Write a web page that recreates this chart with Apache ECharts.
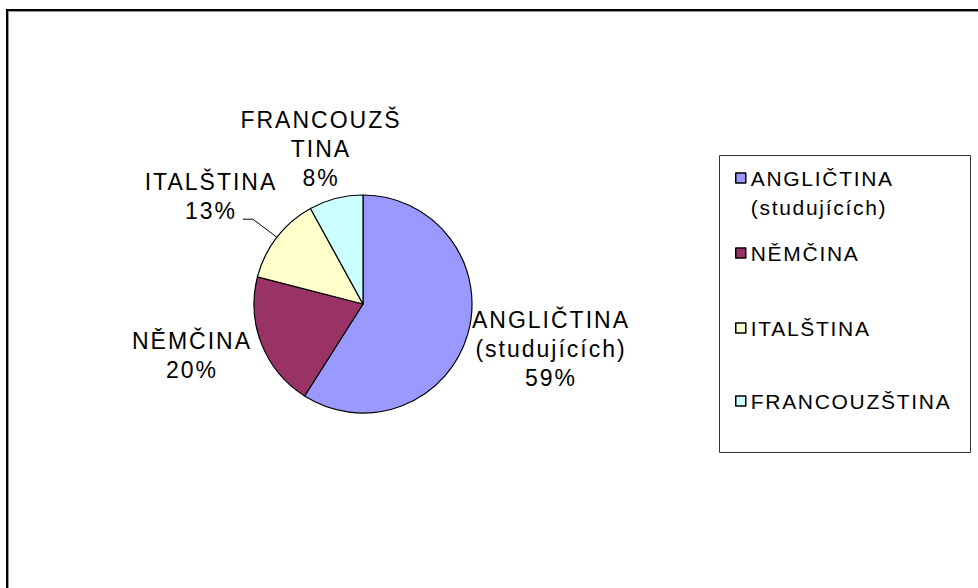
<!DOCTYPE html>
<html><head><meta charset="utf-8">
<script src="https://cdn.jsdelivr.net/npm/echarts@6/dist/echarts.min.js"></script>
<style>
html,body{margin:0;padding:0;background:#fff}
#chart{width:978px;height:588px}
#chart text[style*="23px"]{letter-spacing:2px}
#chart text[style*="21px"]{letter-spacing:1.7px}
</style></head><body><div id="chart"></div>
<script>
const categories = ['ANGLIČTINA\n(studujících)', 'NĚMČINA', 'ITALŠTINA', 'FRANCOUZŠTINA'];
const values = [59, 20, 13, 8];
const colors = ['#9999FF', '#993366', '#FFFFCC', '#CCFFFF'];
// label block centres (layout only)
const labelCenters = [[551, 349], [192, 355], [211, 196], [321, 149]];
// legend rows (icon centre y) - layout only
const legendRows = [178, 253, 328, 401];

const chart = echarts.init(document.getElementById('chart'), null, {renderer: 'svg'});

const legendTextStyle = {fontFamily: 'Liberation Sans', fontSize: 21, color: '#000', lineHeight: 29};
const legends = categories.map((c, i) => ({
  orient: 'vertical', left: 735,
  top: legendRows[i] - (i === 0 ? 43.5 : 14.5),
  padding: 0, itemWidth: 10, itemHeight: 10, icon: 'rect', selectedMode: false,
  itemStyle: {borderColor: '#000', borderWidth: 1.5},
  textStyle: legendTextStyle,
  formatter: name => (name.indexOf('\n') >= 0 ? '\n' + name : name),
  data: [c]
}));

chart.setOption({
  backgroundColor: '#fff',
  animation: false,
  graphic: [
    {type: 'rect', shape: {x: 7, y: 10, width: 2000, height: 2000}, style: {fill: 'none', stroke: '#000', lineWidth: 2}, silent: true},
    {type: 'rect', shape: {x: 8.5, y: 11.5, width: 2000, height: 2000}, style: {fill: 'none', stroke: '#999', lineWidth: 1}, silent: true},
    {type: 'rect', shape: {x: 719.5, y: 155.5, width: 251, height: 297}, style: {fill: 'none', stroke: '#333', lineWidth: 1}, silent: true}
  ],
  legend: legends,
  series: [{
    type: 'pie',
    center: [363, 304],
    radius: 109,
    startAngle: 90,
    clockwise: true,
    avoidLabelOverlap: false,
    emphasis: {disabled: true},
    itemStyle: {borderColor: '#000', borderWidth: 1.2},
    label: {
      show: true, position: 'outside',
      formatter: p => (p.name === 'FRANCOUZŠTINA' ? 'FRANCOUZŠ\nTINA' : p.name) + '\n' + p.percent + '%',
      fontFamily: 'Liberation Sans', fontSize: 23, color: '#000', lineHeight: 29, align: 'center'
    },
    labelLine: {show: true, lineStyle: {color: '#000', width: 1}},
    labelLayout: function (p) {
      const c = labelCenters[p.dataIndex];
      const res = {x: c[0], y: c[1], align: 'center', verticalAlign: 'middle'};
      if (p.dataIndex === 2 && p.labelLinePoints) {
        const s = p.labelLinePoints[0];
        res.labelLinePoints = [[s[0], s[1]], [s[0] - 24, s[1] - 18], [s[0] - 34, s[1] - 18]];
      }
      return res;
    },
    data: categories.map((c, i) => ({
      name: c, value: values[i],
      itemStyle: {color: colors[i]},
      labelLine: {show: i === 2}
    }))
  }]
});
</script></body></html>
